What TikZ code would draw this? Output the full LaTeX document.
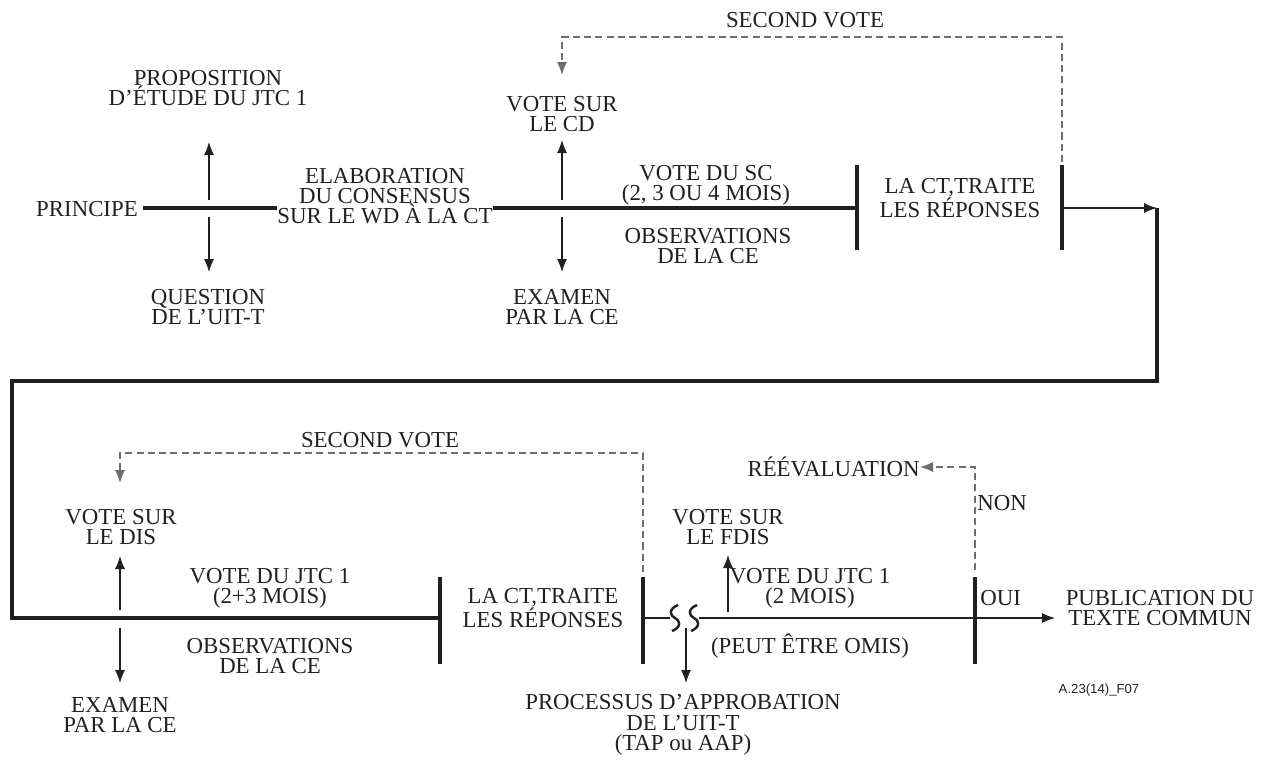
\documentclass[tikz,border=0pt]{standalone}
\usepackage{fontspec}
\setmainfont{Liberation Serif}
\newfontfamily\refsans{Liberation Sans}
\usetikzlibrary{arrows.meta, positioning, calc}
\definecolor{ink}{HTML}{231F20}
\definecolor{dashgray}{HTML}{6D6E71}

\begin{document}
\begin{tikzpicture}[x=0.02cm, y=-0.02cm, >={Latex[length=2.6mm, width=2mm]}, color=ink]
        \tikzstyle{txt} = [align=center, inner sep=0pt, font=\fontsize{13}{11.5}\selectfont]
        \tikzstyle{main} = [line width=1.8pt]
        \tikzstyle{bar} = [line width=1.8pt]
        \tikzstyle{flow} = [line width=0.6pt]
        \tikzstyle{back} = [line width=0.6pt, color=dashgray, dash pattern=on 4pt off 2.4pt]
        \tikzstyle{wave} = [line width=1.4pt]

        \useasboundingbox (0,0) rectangle (1261,762);

        % points on the two lines
        \coordinate (p0) at (143,208);
        \coordinate (p1) at (277,208);
        \coordinate (x1) at (209,208);
        \coordinate (q0) at (493,208);
        \coordinate (x2) at (562,208);
        \coordinate (barA) at (857,208);
        \coordinate (barB) at (1062,208);
        \coordinate (turn) at (1157,208);
        \coordinate (turn3) at (12,381);
        \coordinate (turn4) at (12,618);
        \coordinate (x3) at (120,618);
        \coordinate (barC) at (440,618);
        \coordinate (barD) at (643,618);
        \coordinate (w1) at (675,618);
        \coordinate (x4) at (686,618);
        \coordinate (w2) at (694,618);
        \coordinate (x5) at (728,618);
        \coordinate (barE) at (975,618);
        \coordinate (pubend) at (1055,618);

        % texts, first line
        \node [txt] (principe) at (87,209) {PRINCIPE};
        \node [txt] (propos) at (208,88) {PROPOSITION\\D’ÉTUDE DU JTC 1};
        \node [txt] (question) at (208,307) {QUESTION\\DE L’UIT-T};
        \node [txt] (elab) at (385,196) {ELABORATION\\DU CONSENSUS\\SUR LE WD À LA CT};
        \node [txt] (votecd) at (562,114) {VOTE SUR\\LE CD};
        \node [txt] (examcd) at (562,307) {EXAMEN\\PAR LA CE};
        \node [txt] (votesc) at (706,185) {VOTE DU SC\\(2, 3 OU 4 MOIS)};
        \node [txt] (obssc) at (708,246) {OBSERVATIONS\\DE LA CE};
        \node [txt] (ctone) at (960,198) {LA CT,TRAITE\\LES RÉPONSES};
        \node [txt] (secondone) at (805,20) {SECOND VOTE};

        % texts, second line
        \node [txt] (votedis) at (121,527) {VOTE SUR\\LE DIS};
        \node [txt] (examdis) at (120,715) {EXAMEN\\PAR LA CE};
        \node [txt] (votejtc) at (270,588) {VOTE DU JTC 1\\(2+3 MOIS)};
        \node [txt] (obsjtc) at (270,656) {OBSERVATIONS\\DE LA CE};
        \node [txt] (cttwo) at (543,608) {LA CT,TRAITE\\LES RÉPONSES};
        \node [txt] (secondtwo) at (380,440) {SECOND VOTE};
        \node [txt] (processus) at (683,725) {PROCESSUS D’APPROBATION\\DE L’UIT-T\\(TAP ou AAP)};
        \node [txt] (votefdis) at (728,527) {VOTE SUR\\LE FDIS};
        \node [txt] (votefin) at (810,588) {VOTE DU JTC 1\\(2 MOIS)};
        \node [txt] (omis) at (810,646) {(PEUT ÊTRE OMIS)};
        \node [txt, anchor=east] (reeval) at (920,467) {RÉÉVALUATION};
        \node [txt, anchor=west] (non) at (977,503) {NON};
        \node [txt, anchor=west] (oui) at (980,598) {OUI};
        \node [txt] (publi) at (1160,608) {PUBLICATION DU\\TEXTE COMMUN};
        \node [inner sep=0pt, font=\refsans\fontsize{7.5}{9}\selectfont] (figref) at (1099,690) {A.23(14)\_F07};

        % first line
        \path [draw, main] (p0) -- (p1);
        \path [draw, main] (q0) -- (barA);
        \path [draw, ->, flow] ($(x1)+(0,-8)$) -- ($(x1)+(0,-66)$);
        \path [draw, ->, flow] ($(x1)+(0,9)$) -- ($(x1)+(0,64)$);
        \path [draw, ->, flow] ($(x2)+(0,-8)$) -- ($(x2)+(0,-68)$);
        \path [draw, ->, flow] ($(x2)+(0,9)$) -- ($(x2)+(0,64)$);
        \foreach \b in {barA, barB}
            \path [draw, bar] ($(\b)+(0,-43)$) -- ($(\b)+(0,42)$);
        \path [draw, ->, back] (barB) ++(0,-46) -- ++(0,-125) -| ($(x2)+(0,-133)$);
        \path [draw, ->, flow] (barB) -- (turn);

        % turn down to the second line
        \path [draw, main, line join=miter] (turn) |- (turn3) -- (turn4) -- (barC);

        % second line
        \path [draw, ->, flow] ($(x3)+(0,-8)$) -- ($(x3)+(0,-62)$);
        \path [draw, ->, flow] ($(x3)+(0,10)$) -- ($(x3)+(0,65)$);
        \foreach \b in {barC, barD, barE}
            \path [draw, bar] ($(\b)+(0,-41)$) -- ($(\b)+(0,46)$);
        \path [draw, ->, back] (barD) ++(0,-46) -- ++(0,-119) -| ($(x3)+(0,-135)$);
        \path [draw, flow] (barD) -- ($(w1)+(-5,0)$);
        \path [draw, ->, flow] ($(w2)+(5,0)$) -- (pubend);
        \foreach \w in {w1, w2}
            \path [draw, wave] ($(\w)+(3,-13)$) .. controls ($(\w)+(-7,-9)$) and ($(\w)+(-5,-2)$) .. (\w)
                .. controls ($(\w)+(5,2)$) and ($(\w)+(7,9)$) .. ($(\w)+(-3,13)$);
        \path [draw, ->, flow] ($(x4)+(0,10)$) -- ($(x4)+(0,65)$);
        \path [draw, ->, flow] ($(x5)+(0,-6)$) -- ($(x5)+(0,-63)$);
        \path [draw, ->, back] (barE) ++(0,-48) |- (reeval.east);
    \end{tikzpicture}
\end{document}
